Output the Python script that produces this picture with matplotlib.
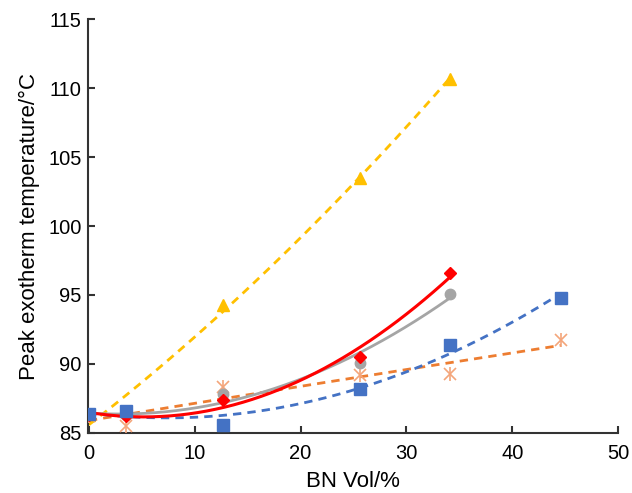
import matplotlib.pyplot as plt
import numpy as np

plt.rcParams['font.family'] = ['Liberation Sans', 'DejaVu Sans']

bn_vol = [0, 3.5, 12.7, 25.6, 34.1, 44.6]
blue_y = [86.4, 86.6, 85.6, 88.2, 91.4, 94.8]
orange_y = [86.2, 85.5, 88.3, 89.2, 89.3, 91.7]
gray_y = [86.3, 86.3, 87.8, 90.1, 95.1]
red_y = [86.3, 86.2, 87.4, 90.5, 96.6]
yellow_y = [86.3, 86.6, 94.3, 103.5, 110.7]

fig = plt.figure(figsize=(6.32, 4.93), dpi=100)
ax = fig.add_axes([0.139, 0.122, 0.839, 0.839])


def fit_line(x, y, color, ls, lw):
    x = np.array(x)
    c = np.polyfit(x, y, 2)
    xs = np.linspace(x.min(), x.max(), 200)
    ax.plot(xs, np.polyval(c, xs), color=color, ls=ls, lw=lw, dashes=(3, 2.2) if ls == '--' else (None, None), zorder=2)


fit_line(bn_vol[:5], yellow_y, '#FFC000', '--', 2)
fit_line(bn_vol, orange_y, '#ED7D31', '--', 2)
fit_line(bn_vol, blue_y, '#4472C4', '--', 2)
fit_line(bn_vol[:5], gray_y, '#A5A5A5', '-', 2)
fit_line(bn_vol[:5], red_y, '#FF0000', '-', 2.2)

ax.plot(bn_vol[:5], yellow_y, '^', color='#FFC000', ms=8, ls='none', zorder=3)
ax.plot(bn_vol, orange_y, 'x', color='#F4A57A', ms=9, mew=1.2, ls='none', zorder=3)
ax.plot(bn_vol, orange_y, '|', color='#F4A57A', ms=10, mew=1.2, ls='none', zorder=3)
ax.plot(bn_vol[:5], gray_y, 'o', color='#A5A5A5', ms=7.5, ls='none', zorder=3)
ax.plot(bn_vol[:5], red_y, 'D', color='#FF0000', ms=6.5, ls='none', zorder=4)
ax.plot(bn_vol, blue_y, 's', color='#4472C4', ms=8, ls='none', zorder=5)

ax.set_xlim(-0.1, 50)
ax.set_ylim(85, 115)
ax.set_xticks([0, 10, 20, 30, 40, 50])
ax.set_yticks([85, 90, 95, 100, 105, 110, 115])
ax.spines['top'].set_visible(False)
ax.spines['right'].set_visible(False)
for s in ['left', 'bottom']:
    ax.spines[s].set_linewidth(1.5)
    ax.spines[s].set_color('#333333')
ax.tick_params(direction='in', length=5, width=1.5, color='#333333', labelsize=14.5, pad=4.5)
ax.tick_params(axis='x', pad=8)
ax.set_xlabel('BN Vol/%', fontsize=16, labelpad=6)
ax.set_ylabel('Peak exotherm temperature/°C', fontsize=16, labelpad=6)

fig.savefig('out.png', dpi=100)
